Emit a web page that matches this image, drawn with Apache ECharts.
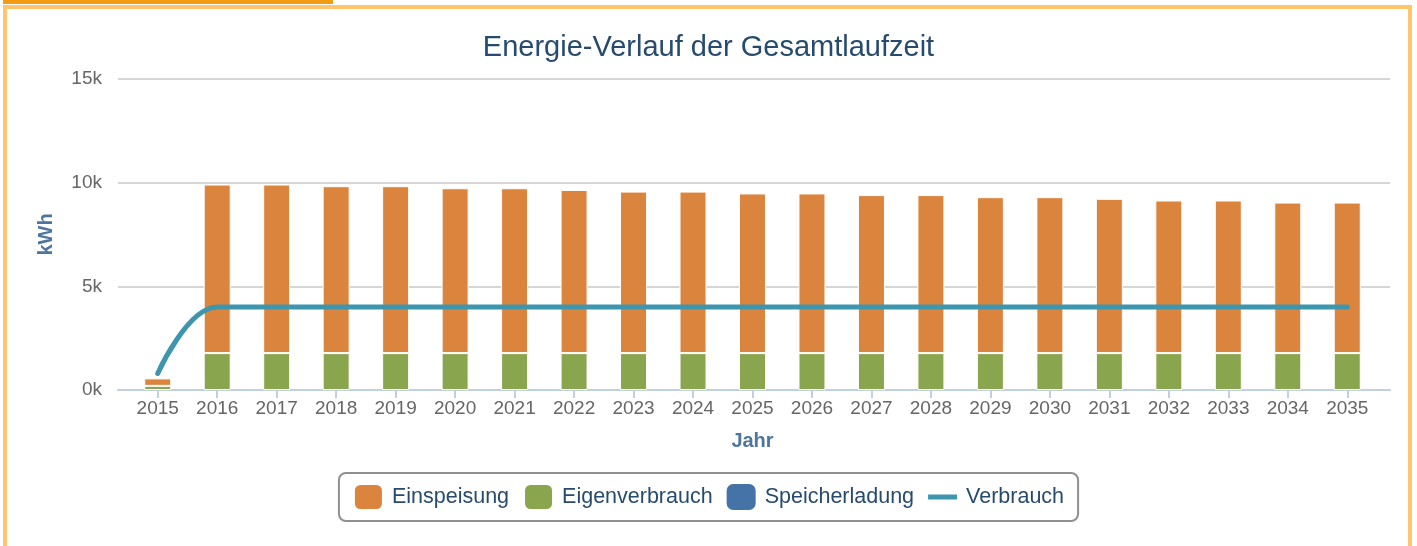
<!DOCTYPE html>
<html>
<head>
<meta charset="utf-8">
<title>Energie-Verlauf der Gesamtlaufzeit</title>
<script src="https://cdn.jsdelivr.net/npm/echarts@6/dist/echarts.min.js"></script>
<style>
  html, body { margin: 0; padding: 0; background: #fff; }
  .wrap { position: relative; width: 1417px; height: 546px; overflow: hidden; }
  .top-bar { position: absolute; left: 3px; top: 0; width: 330px; height: 4px; background: #f39c12; }
  .frame {
    position: absolute; left: 3px; top: 5px; width: 1401px; height: 600px;
    border: 4px solid #fec56b; pointer-events: none;
  }
  #chart { position: absolute; left: 0; top: 0; width: 1417px; height: 546px; }
</style>
</head>
<body>
<div class="wrap">
  <div id="chart"></div>
  <div class="top-bar"></div>
  <div class="frame"></div>
</div>
<script>
  const years = ['2015', '2016', '2017', '2018', '2019', '2020', '2021', '2022', '2023', '2024', '2025',
    '2026', '2027', '2028', '2029', '2030', '2031', '2032', '2033', '2034', '2035']
  const einspeisung = [360, 8130, 8130, 8050, 8050, 7950, 7950, 7870, 7790, 7790, 7700,
    7700, 7620, 7620, 7520, 7520, 7440, 7360, 7360, 7260, 7260]
  const eigenverbrauch = [200, 1780, 1780, 1780, 1780, 1780, 1780, 1780, 1780, 1780, 1780,
    1780, 1780, 1780, 1780, 1780, 1780, 1780, 1780, 1780, 1780]
  const speicherladung = [0, 0, 0, 0, 0, 0, 0, 0, 0, 0, 0,
    0, 0, 0, 0, 0, 0, 0, 0, 0, 0]
  const verbrauch = [800, 4000, 4000, 4000, 4000, 4000, 4000, 4000, 4000, 4000, 4000,
    4000, 4000, 4000, 4000, 4000, 4000, 4000, 4000, 4000, 4000]
  const yTicks = { min: 0, max: 15000, interval: 5000 }

  const chart = echarts.init(document.getElementById('chart'))
  const font = 'Liberation Sans, Arial, Helvetica, sans-serif'

  const option = {
    animation: false,
    textStyle: { fontFamily: font },
    title: {
      text: 'Energie-Verlauf der Gesamtlaufzeit',
      left: 'center',
      top: 28,
      textStyle: { color: '#274b6d', fontSize: 29, fontWeight: 'normal' }
    },
    legend: {
      data: [
        { name: 'Einspeisung' },
        { name: 'Eigenverbrauch' },
        { name: 'Speicherladung' },
        // short thick line as in the original legend
        { name: 'Verbrauch', icon: 'path://M0,0 L29,0 L29,5 L0,5 Z' }
      ],
      left: 'center',
      top: 473,
      padding: [10, 14, 10, 14],
      borderColor: '#909090',
      borderWidth: 2,
      borderRadius: 7,
      itemWidth: 29,
      itemHeight: 26,
      itemGap: 14,
      textStyle: { color: '#274b6d', fontSize: 21.5, padding: [0, 0, 0, 4] }
    },
    grid: [
      // wide grid: gridlines, y labels, axis line
      { left: 118, right: 27, top: 79, bottom: 156 },
      // bar grid
      { left: 128, right: 40, top: 79, bottom: 156 }
    ],
    xAxis: [
      {
        gridIndex: 0,
        type: 'value',
        min: 0,
        max: 1,
        axisLine: { show: true, lineStyle: { color: '#c0d0e0', width: 2 } },
        axisTick: { show: false },
        axisLabel: { show: false },
        splitLine: { show: false }
      },
      {
        gridIndex: 1,
        type: 'category',
        data: years,
        boundaryGap: true,
        name: 'Jahr',
        nameLocation: 'middle',
        nameGap: 41,
        nameTextStyle: { color: '#4d759e', fontSize: 20, fontWeight: 'bold' },
        axisLine: { show: false },
        axisTick: { show: true, alignWithLabel: true, length: 8, lineStyle: { color: '#c0d0e0', width: 2 } },
        axisLabel: { color: '#666', fontSize: 19, margin: 9 }
      }
    ],
    yAxis: [
      {
        gridIndex: 0,
        type: 'value',
        min: yTicks.min,
        max: yTicks.max,
        interval: yTicks.interval,
        name: 'kWh',
        nameLocation: 'middle',
        nameGap: 62,
        nameRotate: 90,
        nameTextStyle: { color: '#4d759e', fontSize: 20, fontWeight: 'bold' },
        axisLine: { show: false },
        axisTick: { show: false },
        axisLabel: { color: '#666', fontSize: 19, margin: 16, formatter: v => (v / 1000) + 'k' },
        splitLine: { show: true, lineStyle: { color: '#c8c8c8', width: 1.5 } }
      },
      {
        gridIndex: 1,
        type: 'value',
        min: yTicks.min,
        max: yTicks.max,
        interval: yTicks.interval,
        show: false,
        splitLine: { show: false }
      }
    ],
    series: [
      {
        name: 'Speicherladung',
        type: 'bar',
        stack: 'energie',
        xAxisIndex: 1,
        yAxisIndex: 1,
        barWidth: 27,
        itemStyle: { color: '#4572a7' },
        data: speicherladung
      },
      {
        name: 'Eigenverbrauch',
        type: 'bar',
        stack: 'energie',
        xAxisIndex: 1,
        yAxisIndex: 1,
        barWidth: 27,
        itemStyle: { color: '#89a54e', borderColor: '#fff', borderWidth: 1 },
        data: eigenverbrauch
      },
      {
        name: 'Einspeisung',
        type: 'bar',
        stack: 'energie',
        xAxisIndex: 1,
        yAxisIndex: 1,
        barWidth: 27,
        itemStyle: { color: '#db843d', borderColor: '#fff', borderWidth: 1 },
        data: einspeisung
      },
      {
        name: 'Verbrauch',
        type: 'line',
        xAxisIndex: 1,
        yAxisIndex: 1,
        smooth: 0.5,
        smoothMonotone: 'x',
        symbol: 'none',
        z: 5,
        lineStyle: { color: '#3d96ae', width: 5, cap: 'round' },
        itemStyle: { color: '#3d96ae' },
        data: verbrauch
      }
    ]
  }

  chart.setOption(option)
</script>
</body>
</html>
